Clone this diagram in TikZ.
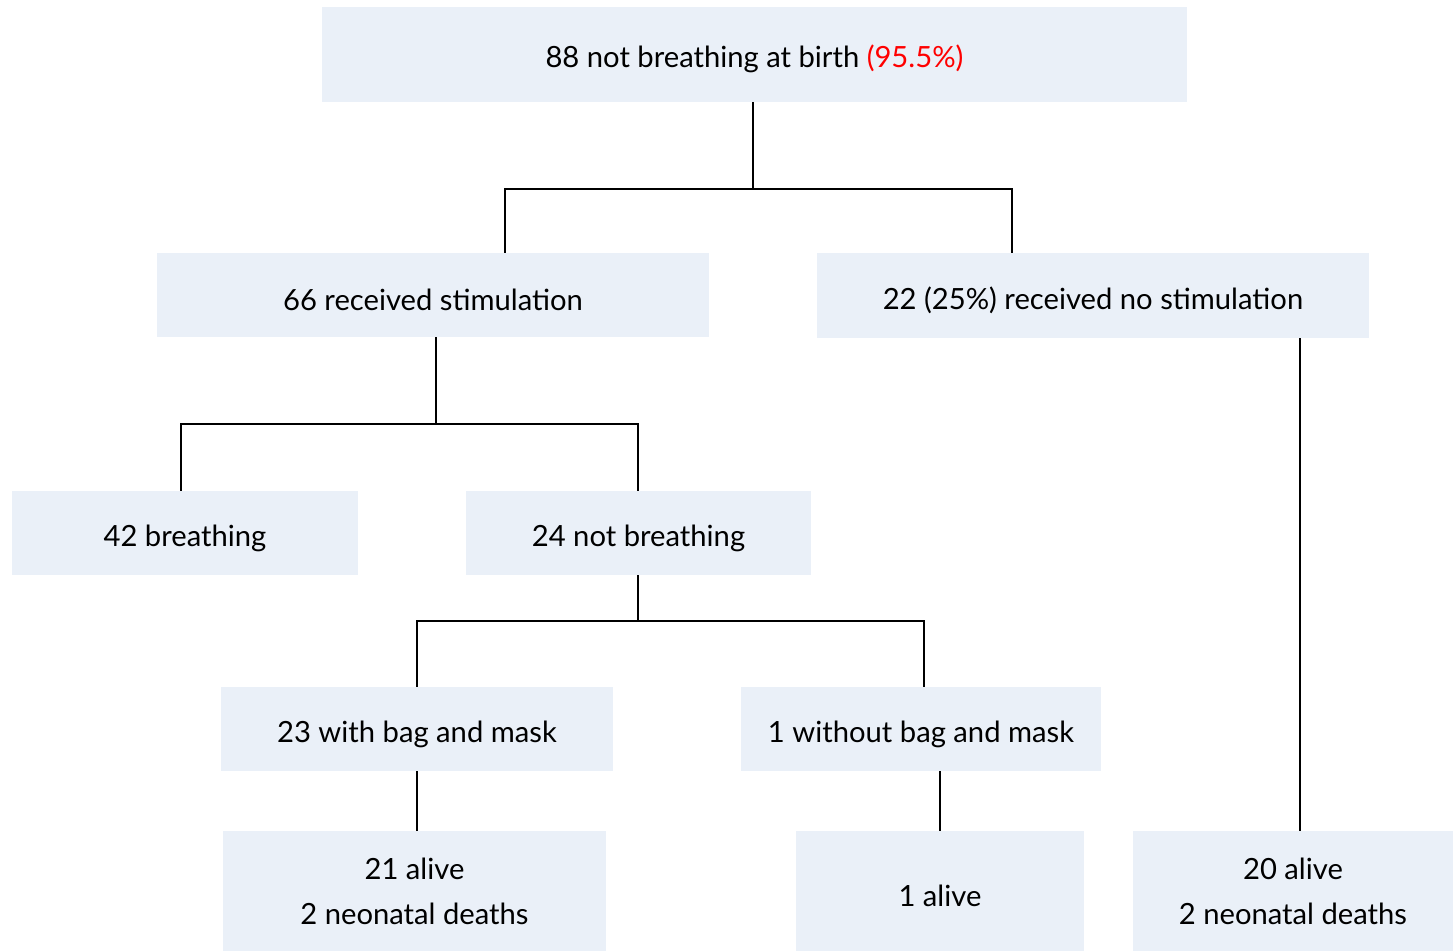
\documentclass[tikz,border=0pt]{standalone}
\usepackage{fontspec}
\setmainfont{Lato}
\usetikzlibrary{positioning}
\definecolor{boxblue}{HTML}{EAF0F8}
\definecolor{pctred}{HTML}{FF0000}

\begin{document}
\begin{tikzpicture}[x=0.5pt, y=-0.5pt,
  box/.style={fill=boxblue, inner sep=0pt, align=center,
              font=\fontsize{14.6}{22.5}\selectfont,
              execute at begin node=\rule{0pt}{16pt}},
  link/.style={draw=black, line width=1pt}
]
\useasboundingbox (0,0) rectangle (1453,951);

% boxes
\node[box, minimum width=432.5pt, minimum height=47.5pt] (top)    at (754.5,54.5)
  {88 not breathing at birth \textcolor{pctred}{(95.5\%)}};
\node[box, minimum width=276pt, minimum height=42pt]     (stim)   at (433,295)
  {66 received stimulation};
\node[box, minimum width=276pt, minimum height=42.5pt]   (nostim) at (1093,295.5)
  {22 (25\%) received no stimulation};
\node[box, minimum width=173pt, minimum height=42pt]     (brth)   at (185,533)
  {42 breathing};
\node[box, minimum width=172.5pt, minimum height=42pt]   (nobrth) at (638.5,533)
  {24 not breathing};
\node[box, minimum width=196pt, minimum height=42pt]     (bag)    at (417,729)
  {23 with bag and mask};
\node[box, minimum width=180pt, minimum height=42pt]     (nobag)  at (921,729)
  {1 without bag and mask};
\node[box, minimum width=191.5pt, minimum height=60pt]   (alivea) at (414.5,891)
  {21 alive\\2 neonatal deaths};
\node[box, minimum width=144pt, minimum height=60pt]     (aliveb) at (940,891)
  {1 alive};
\node[box, minimum width=160pt, minimum height=60pt]     (alivec) at (1293,891)
  {20 alive\\2 neonatal deaths};

% junctions
\coordinate (j1)  at (753,189);
\coordinate (j1l) at (505,189);
\coordinate (j1r) at (1012,189);
\coordinate (j2)  at (436,424);
\coordinate (j2l) at (181,424);
\coordinate (j2r) at (638,424);
\coordinate (j3)  at (638,621);
\coordinate (j3l) at (417,621);
\coordinate (j3r) at (924,621);
\coordinate (dc)  at (1300,585);

% connectors
\draw[link] (top.south -| j1) -- (j1);
\draw[link] (stim.north -| j1l) -- (j1l) -- (j1r) -- (nostim.north -| j1r);
\draw[link] (stim.south -| j2) -- (j2);
\draw[link] (brth.north -| j2l) -- (j2l) -- (j2r) -- (nobrth.north -| j2r);
\draw[link] (nobrth.south -| j3) -- (j3);
\draw[link] (bag.north -| j3l) -- (j3l) -- (j3r) -- (nobag.north -| j3r);
\draw[link] (bag.south) -- (alivea.north -| bag.south);
\draw[link] (nobag.south -| aliveb.north) -- (aliveb.north);
\draw[link] (nostim.south -| dc) -- (alivec.north -| dc);
\end{tikzpicture}
\end{document}
